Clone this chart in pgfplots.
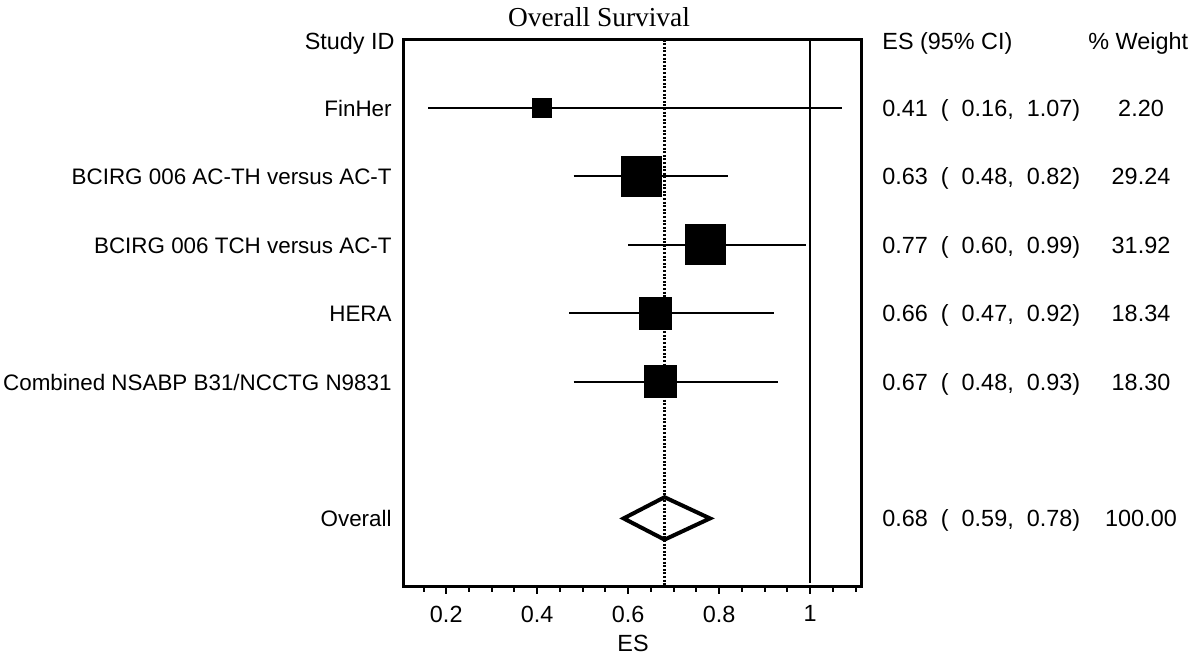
\documentclass[border=0pt]{standalone}
\usepackage{pgfplots}
\pgfplotsset{compat=1.18}
\usepackage{fontspec}
\setmainfont{Liberation Sans}
\newfontfamily\titlefont{Liberation Serif}

\newcommand{\lab}{\fontsize{11.7}{14}\selectfont}
\newcommand{\slab}{\fontsize{11.2}{14}\selectfont}

\begin{document}
\begin{tikzpicture}[x=0.5pt, y=0.5pt]
\path[use as bounding box] (0,0) rectangle (1200,661);

\begin{axis}[
    at={(201.75pt,37.1pt)}, anchor=south west,
    scale only axis,
    width=228.75pt, height=273.6pt,
    xmin=0.106, xmax=1.112,
    ymin=0, ymax=8, y dir=reverse,
    clip=false,
    axis line style={line width=1.5pt},
    ytick=\empty,
    xtick={0.2,0.4,0.6,0.8,1},
    xticklabels={0.2,0.4,0.6,0.8,1},
    minor xtick={0.15,0.25,0.3,0.35,0.45,0.5,0.55,0.65,0.7,0.75,0.85,0.9,0.95,1.05,1.1},
    xtick pos=bottom,
    tick align=outside,
    major tick length=3.5pt, minor tick length=2.5pt,
    every tick/.style={line width=1pt, black},
    ticklabel style={font=\lab},
    xticklabel style={yshift=-2.5pt},
]
% reference lines
\addplot[line width=1pt, black] coordinates {(1,0) (1,7.94)};
\addplot[line width=1.1pt, black, dash pattern=on 1pt off 0.8pt] coordinates {(0.68,0) (0.68,8)};

% confidence intervals
\addplot[line width=1pt, black] coordinates {(0.16,1) (1.07,1)};
\addplot[line width=1pt, black] coordinates {(0.48,2) (0.82,2)};
\addplot[line width=1pt, black] coordinates {(0.60,3) (0.99,3)};
\addplot[line width=1pt, black] coordinates {(0.47,4) (0.92,4)};
\addplot[line width=1pt, black] coordinates {(0.48,5) (0.93,5)};

% study estimates, box size by weight
\addplot[only marks, mark=square*, mark size=4.75pt, mark options={draw=none, fill=black}] coordinates {(0.41,1)};
\addplot[only marks, mark=square*, mark size=10pt, mark options={draw=none, fill=black}] coordinates {(0.63,2)};
\addplot[only marks, mark=square*, mark size=10pt, mark options={draw=none, fill=black}] coordinates {(0.77,3)};
\addplot[only marks, mark=square*, mark size=8pt, mark options={draw=none, fill=black}] coordinates {(0.66,4)};
\addplot[only marks, mark=square*, mark size=8pt, mark options={draw=none, fill=black}] coordinates {(0.67,5)};

% overall diamond
\addplot[line width=2pt, black, line join=miter] coordinates {(0.59,7) (0.68,6.69) (0.78,7) (0.68,7.31) (0.59,7)} -- cycle;
\end{axis}

\tikzset{txt/.style={font=\lab, inner sep=0pt}}

% title and axis label
\node[font=\titlefont\fontsize{13.7}{16}\selectfont] at (599,644) {Overall Survival};
\node[font=\lab] at (633,18) {ES};

% column headers
\node[txt, anchor=base east] at (395,611.6) {Study ID};
\node[txt, anchor=base west] at (882,611.6) {ES (95\% CI)};
\node[txt, anchor=base west] at (1088,611.6) {\% Weight};

% study rows
\foreach \py/\name/\es/\w in {
    108/{FinHer}/{0.41\ \ (\ \ 0.16,\ \ 1.07)}/2.20,
    176.4/{BCIRG 006 AC-TH versus AC-T}/{0.63\ \ (\ \ 0.48,\ \ 0.82)}/29.24,
    244.8/{BCIRG 006 TCH versus AC-T}/{0.77\ \ (\ \ 0.60,\ \ 0.99)}/31.92,
    313.2/{HERA}/{0.66\ \ (\ \ 0.47,\ \ 0.92)}/18.34,
    381.6/{Combined NSABP B31{/}NCCTG N9831}/{0.67\ \ (\ \ 0.48,\ \ 0.93)}/18.30,
    518.4/{Overall}/{0.68\ \ (\ \ 0.59,\ \ 0.78)}/100.00}{
  \node[txt, font=\slab, anchor=base east] at (392,{661-\py-8.4}) {\name};
  \node[txt, anchor=base west] at (882,{661-\py-8.4}) {\es};
  \node[txt, anchor=base] at (1141,{661-\py-8.4}) {\w};
}
\end{tikzpicture}
\end{document}
